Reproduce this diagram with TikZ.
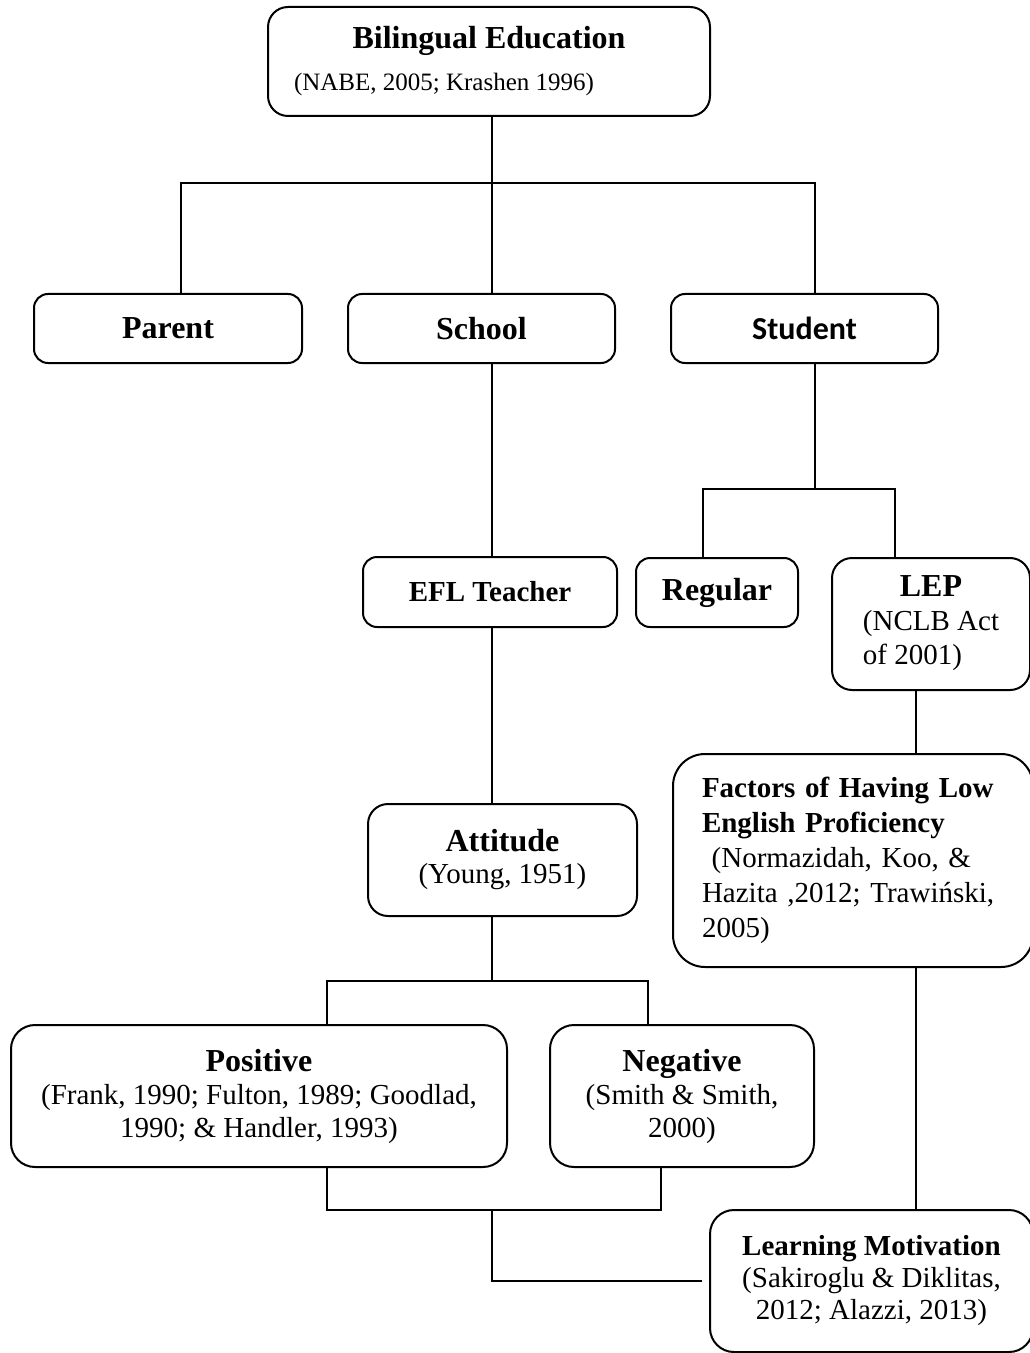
\documentclass[tikz,border=0pt]{standalone}
\usepackage{fontspec}
\setmainfont{Liberation Serif}
\newfontfamily\carlito{Carlito}
\newcommand\headfont{\fontsize{16}{17}\selectfont\bfseries}
\newcommand\subhead{\fontsize{14.5}{17}\selectfont\bfseries}

\begin{document}
\begin{tikzpicture}[x=0.5pt, y=-0.5pt,
  box/.style={draw, line width=1pt, rounded corners=7pt, align=center, inner sep=2pt,
    font=\fontsize{14.5}{16.5}\selectfont},
  link/.style={line width=1pt}]
\useasboundingbox (0,0) rectangle (1029,1353);

\node[box, rounded corners=10pt, minimum width=221pt, minimum height=54.5pt,
  font=\fontsize{12.5}{14}\selectfont] (edu) at (489,61.5)
  {{\headfont Bilingual Education}\\[7pt](NABE, 2005; Krashen 1996)\hspace*{45pt}};
\node[box, minimum width=134pt, minimum height=34.5pt] (parent) at (168,328.5) {\headfont Parent};
\node[box, minimum width=133.5pt, minimum height=34.5pt] (school) at (481.5,328.5) {\headfont School};
\node[box, minimum width=133.5pt, minimum height=34.5pt] (student) at (804.5,328.5)
  {\carlito\fontsize{16}{17}\selectfont\bfseries Student};
\node[box, minimum width=127pt, minimum height=35pt] (efl) at (490,592) {\subhead EFL Teacher};
\node[box, minimum width=81pt, minimum height=34.5pt] (regular) at (717,592.5) {\headfont Regular};
\node[box, rounded corners=10pt, minimum width=99pt, minimum height=66pt] (lep) at (931,624)
  {\fontsize{14.5}{17}\selectfont\begin{tabular}{@{}l@{}}\multicolumn{1}{@{}c@{}}{\headfont LEP}\\(NCLB Act\\of 2001)\end{tabular}};
\node[box, rounded corners=16pt, minimum width=180pt, minimum height=106.5pt, align=left,
  text width=151pt, font=\fontsize{14.5}{17.5}\selectfont] (factors) at (853,860.5)
  {\textbf{Factors of Having Low}\\\textbf{English Proficiency}\\~(Normazidah, Koo, \&\\Hazita ,2012; Trawiński,\\2005)};
\node[box, rounded corners=10pt, minimum width=134.5pt, minimum height=56pt, font=\fontsize{14.5}{16}\selectfont]
  (attitude) at (502.5,860) {{\headfont Attitude}\\(Young, 1951)};
\node[box, rounded corners=12pt, minimum width=248pt, minimum height=71pt] (positive) at (259,1096)
  {{\headfont Positive}\\(Frank, 1990; Fulton, 1989; Goodlad,\\1990; \& Handler, 1993)};
\node[box, rounded corners=12pt, minimum width=132pt, minimum height=71pt] (negative) at (682,1096)
  {{\headfont Negative}\\(Smith \& Smith,\\2000)};
\node[box, rounded corners=12pt, minimum width=161.5pt, minimum height=71pt, font=\fontsize{14.5}{16}\selectfont]
  (lm) at (871.5,1281) {{\bfseries Learning Motivation}\\(Sakiroglu \& Diklitas,\\2012; Alazzi, 2013)};

\coordinate (top) at (492,183);
\coordinate (b1) at (181,183);
\coordinate (b2) at (815,183);
\coordinate (s1) at (703,489);
\coordinate (s2) at (895,489);
\coordinate (sj) at (815,489);
\coordinate (aj) at (492,981);
\coordinate (p1) at (327,981);
\coordinate (n1) at (648,981);
\coordinate (p2) at (327,1210);
\coordinate (n2) at (661,1210);
\coordinate (mj) at (492,1210);
\coordinate (lj) at (916,700);

\draw[link] (top |- edu.south) -- (top |- school.north);
\draw[link] (b1 |- parent.north) -- (b1) -- (b2) -- (b2 |- student.north);
\draw[link] (sj |- student.south) -- (sj);
\draw[link] (s1 |- regular.north) -- (s1) -- (s2) -- (s2 |- lep.north);
\draw[link] (top |- school.south) -- (top |- efl.north);
\draw[link] (top |- efl.south) -- (top |- attitude.north);
\draw[link] (top |- attitude.south) -- (aj);
\draw[link] (p1 |- positive.north) -- (p1) -- (n1) -- (n1 |- negative.north);
\draw[link] (lj |- lep.south) -- (lj |- factors.north);
\draw[link] (lj |- factors.south) -- (lj |- lm.north);
\draw[link] (p2 |- positive.south) -- (p2) -- (n2) -- (n2 |- negative.south);
\draw[link, shorten >=3.5pt] (mj) |- (lm.west);
\end{tikzpicture}
\end{document}
